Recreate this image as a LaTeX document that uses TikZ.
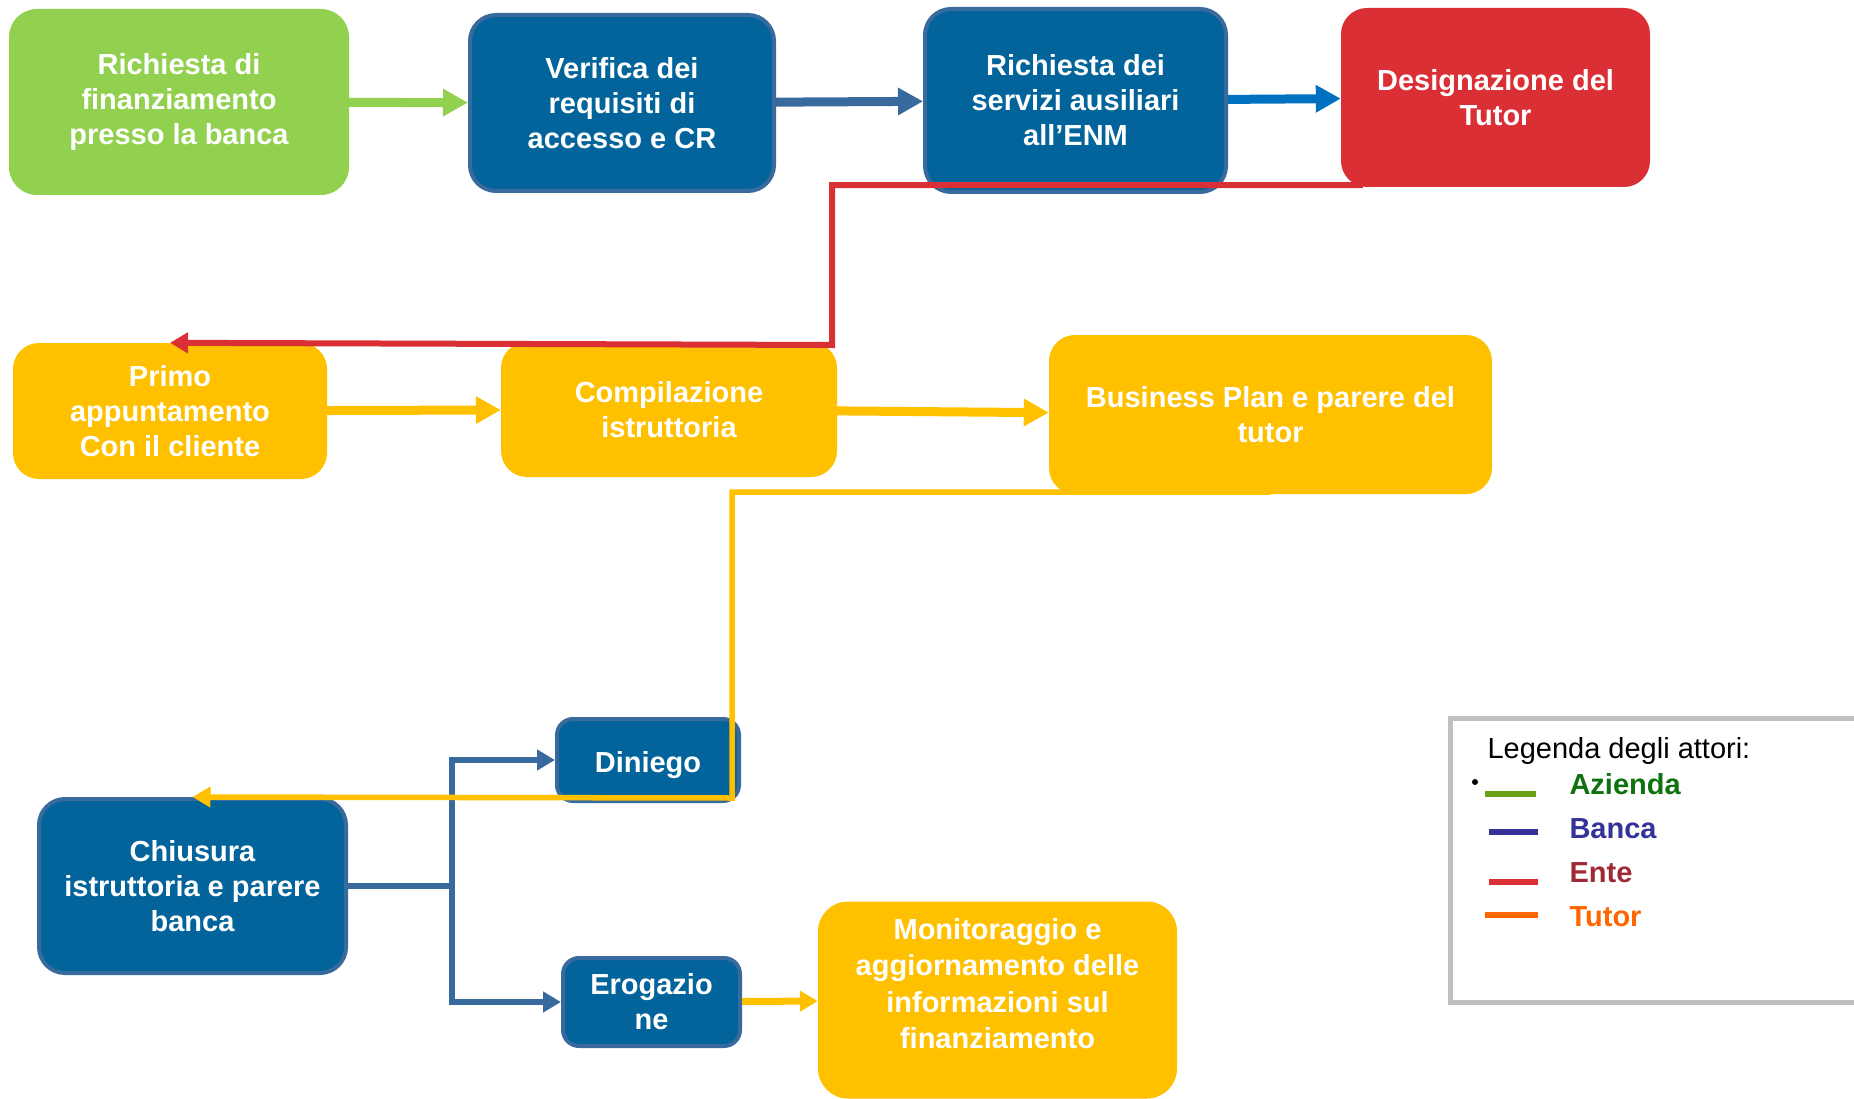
\documentclass[tikz,border=0pt]{standalone}
\usepackage{fontspec}
\setmainfont{Liberation Sans}
\usetikzlibrary{arrows.meta}

\definecolor{verde}{HTML}{92D050}
\definecolor{blu}{HTML}{02649A}
\definecolor{bordoblu}{HTML}{386A9E}
\definecolor{bluchiaro}{HTML}{0070C0}
\definecolor{rosso}{HTML}{DA2F35}
\definecolor{giallo}{HTML}{FFC000}
\definecolor{grigio}{HTML}{BFBFBF}
\definecolor{legverde}{HTML}{6AA112}
\definecolor{testoverde}{HTML}{0E720E}
\definecolor{legblu}{HTML}{333399}
\definecolor{testorosso}{HTML}{9E2A38}
\definecolor{arancio}{HTML}{FF6600}

\tikzset{
  fase/.style={rectangle, rounded corners=26pt, inner sep=0pt, align=center,
    text=white, font=\fontsize{29}{35}\selectfont\bfseries,
    execute at begin node=\rule{0pt}{32pt}},
  faseverde/.style={fase, fill=verde},
  faseblu/.style={fase, fill=blu, draw=bordoblu, line width=4pt},
  faserossa/.style={fase, fill=rosso},
  fasegialla/.style={fase, fill=giallo},
  grossa/.style={line width=9pt, -{Triangle[length=25pt,width=26pt]}},
  sottile/.style={line width=6pt, -{Triangle[length=18pt,width=20pt]}},
  voce/.style={anchor=base west, font=\fontsize{29}{35}\selectfont\bfseries}
}

\begin{document}
\begin{tikzpicture}[x=1pt, y=-1pt]
\useasboundingbox (0,0) rectangle (1854,1099);
\clip (0,0) rectangle (1854,1099);

% prima riga
\node[faseverde, minimum width=340pt, minimum height=186pt, rounded corners=28pt] (richiesta) at (179,102)
  {Richiesta di\\finanziamento\\presso la banca};
\node[faseblu, minimum width=304pt, minimum height=176pt] (verifica) at (622,103)
  {Verifica dei\\requisiti di\\accesso e CR};
\node[faseblu, minimum width=301pt, minimum height=183pt] (servizi) at (1075.5,100.5)
  {Richiesta dei\\servizi ausiliari\\all’ENM};
\node[faserossa, minimum width=309pt, minimum height=179pt] (tutor) at (1495.5,97.5)
  {Designazione del\\Tutor};

% seconda riga
\node[fasegialla, minimum width=314pt, minimum height=136pt] (primo) at (170,411)
  {Primo\\appuntamento\\Con il cliente};
\node[fasegialla, minimum width=336pt, minimum height=135pt] (compilazione) at (669,409.5)
  {Compilazione\\istruttoria};
\node[fasegialla, minimum width=443pt, minimum height=159pt] (bp) at (1270.5,414.5)
  {Business Plan e parere del\\tutor};

% esito
\node[faseblu, minimum width=182pt, minimum height=82pt, rounded corners=16pt] (diniego) at (648,760)
  {Diniego};
\node[faseblu, minimum width=307pt, minimum height=174pt] (chiusura) at (192.5,886)
  {Chiusura\\istruttoria e parere\\banca};
\node[faseblu, minimum width=177pt, minimum height=88pt, rounded corners=16pt] (erogazione) at (651.5,1002)
  {Erogazio\\ne};
\node[fasegialla, minimum width=359pt, minimum height=197pt, rounded corners=30pt] (monitoraggio) at (997.5,1000)
  {Monitoraggio e\\[1.5pt]aggiornamento delle\\[1.5pt]informazioni sul\\[1.5pt]finanziamento\\[-2pt]\mbox{}};

\coordinate (ente) at (832,345);
\coordinate (svolta) at (732,798);
\coordinate (bivio) at (452,886);

\draw[grossa, verde] (richiesta) -- (verifica);
\draw[grossa, bordoblu] (verifica) -- (servizi);
\draw[grossa, bluchiaro] (servizi) -- (tutor);
\draw[sottile, rosso] ([xshift=22pt,yshift=2pt]tutor.south west) -| (ente) -- (primo.north);
\draw[grossa, giallo] (primo) -- (compilazione);
\draw[grossa, giallo] (compilazione) -- (bp);

\draw[sottile, bordoblu] (chiusura.east) -- (bivio) |- (diniego.west);
\draw[sottile, bordoblu] (chiusura.east) -- (bivio) |- (erogazione.west);
\draw[sottile, giallo, line width=5.5pt] ([yshift=2pt]bp.south) -| (svolta) -- (chiusura.north);
\draw[sottile, giallo, line width=7pt] (erogazione) -- (monitoraggio);

% legenda
\draw[grigio, line width=5pt] (1450,718) rectangle (1890,1002);
\node[anchor=base west, font=\fontsize{29}{35}\selectfont] (titolo) at (1484,758) {Legenda degli attori:};
\fill (1475,782) circle (3pt);
\draw[legverde, line width=6pt] (1485,794) -- (1536,794);
\node[voce, text=testoverde] (azienda) at (1566,794) {Azienda};
\draw[legblu, line width=6pt] (1489,832) -- (1538,832);
\node[voce, text=legblu] (banca) at (1566,838) {Banca};
\draw[rosso, line width=6pt] (1489,882) -- (1538,882);
\node[voce, text=testorosso] (entevoce) at (1566,882) {Ente};
\draw[arancio, line width=6pt] (1485,915) -- (1538,915);
\node[voce, text=arancio] (tutorvoce) at (1566,926) {Tutor};
\end{tikzpicture}
\end{document}
